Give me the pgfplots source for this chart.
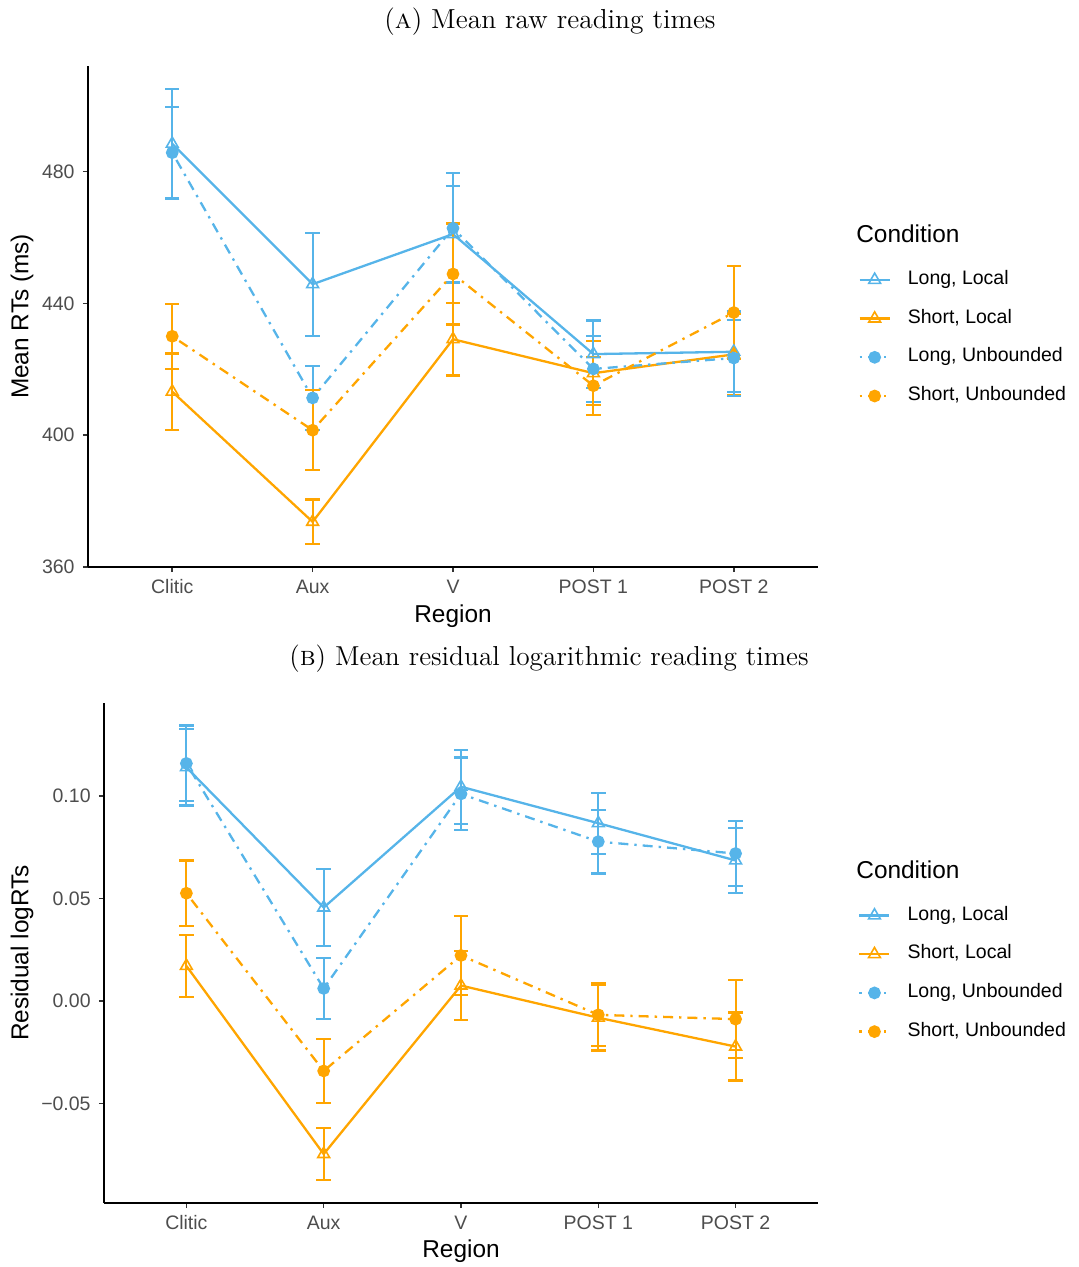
\documentclass[border=0pt]{standalone}
\usepackage{fontspec}
\setsansfont{Liberation Sans}
\usepackage{pgfplots}
\pgfplotsset{compat=1.18}
\usepackage{pgfplotstable}

\definecolor{cblue}{HTML}{56B4E9}
\definecolor{corange}{HTML}{FFA500}
\definecolor{tickgrey}{HTML}{4D4D4D}
\definecolor{tickline}{HTML}{333333}

\pgfplotstableread{
x LLy LLe SLy SLe LUy LUe SUy SUe
0 488.4 16.7 413.2 11.6 485.7 13.9 430.0 9.9
1 445.8 15.6 373.7 6.8 411.3 9.8 401.5 12.1
2 461.0 14.5 429.1 11.0 462.8 16.7 448.9 15.3
3 424.6 10.2 418.8 9.7 420.1 10.0 415.0 8.8
4 425.3 12.2 424.5 12.2 423.4 11.6 437.2 14.1
}\rawdata

\pgfplotstableread{
x LLy LLe SLy SLe LUy LUe SUy SUe
0 0.1141 0.0187 0.0171 0.0150 0.1160 0.0185 0.0526 0.0160
1 0.0456 0.0187 -0.0748 0.0128 0.0061 0.0150 -0.0342 0.0156
2 0.1046 0.0181 0.0075 0.0170 0.1011 0.0178 0.0222 0.0193
3 0.0868 0.0149 -0.0082 0.0160 0.0778 0.0156 -0.0068 0.0154
4 0.0686 0.0159 -0.0223 0.0166 0.0720 0.0159 -0.0089 0.0190
}\logdata

\tikzset{dashdot/.style={dash pattern=on 1.2pt off 3pt on 5pt off 3pt}}

\pgfplotsset{
  rtaxis/.style={
    scale only axis,
    xmin=-0.6, xmax=4.6,
    axis x line=bottom, axis y line=left,
    axis line style={-, line width=0.8pt, black},
    tick align=outside, major tick length=2.5pt,
    every tick/.style={tickline, line width=0.8pt},
    xtick={0,1,2,3,4},
    xticklabels={Clitic,Aux,V,POST 1,POST 2},
    scaled y ticks=false,
    tick label style={font=\sffamily\fontsize{9.75}{11}\selectfont, text=tickgrey},
    xticklabel style={inner sep=0pt, text height=7pt, text depth=0pt, yshift=-3.5pt},
    yticklabel style={inner sep=0pt, xshift=-4pt},
    label style={font=\sffamily\fontsize{12.2}{14}\selectfont},
    xlabel={Region},
    legend image code/.code={\draw[mark repeat=2,mark phase=2,##1] plot coordinates {(0pt,0pt) (7.5pt,0pt) (15pt,0pt)};},
    legend cell align=left,
    legend style={draw=none, fill=none, font=\sffamily\fontsize{9.75}{11}\selectfont,
      inner sep=0pt, outer sep=0pt, row sep=9.85pt, column sep=0pt,
      nodes={inner sep=0pt, text height=7pt, text depth=2.5pt},
      /tikz/every odd column/.style={column sep=8.5pt},
      anchor=north west},
    clip=false,
  },
  ebar/.style={
    /pgfplots/error bars/y dir=both,
    /pgfplots/error bars/y explicit,
    /pgfplots/error bars/error bar style={solid, line width=1.1pt},
    /pgfplots/error bars/error mark options={rotate=90, mark size=3.6pt, line width=1.1pt, solid},
  },
  LLs/.style={cblue, solid, line width=1.15pt, mark=triangle, mark size=3.4pt, mark options={solid, line width=0.8pt}, ebar},
  SLs/.style={corange, solid, line width=1.15pt, mark=triangle, mark size=3.4pt, mark options={solid, line width=0.8pt}, ebar},
  LUs/.style={cblue, dashdot, line width=1.15pt, mark=*, mark size=2.6pt, mark options={solid, fill=cblue}, ebar},
  SUs/.style={corange, dashdot, line width=1.15pt, mark=*, mark size=2.6pt, mark options={solid, fill=corange}, ebar},
}

\begin{document}
\begin{tikzpicture}
\useasboundingbox (0,0) rectangle (539pt,-633.5pt);

\node[anchor=base, font=\fontsize{13.75}{16}\selectfont] at (275pt,-14.5pt) {(\textsc{a}) Mean raw reading times};
\node[anchor=base, font=\fontsize{13.7}{16}\selectfont] at (274.5pt,-332.5pt) {(\textsc{b}) Mean residual logarithmic reading times};

\begin{axis}[rtaxis,
  at={(44pt,-283.5pt)}, anchor=south west,
  width=365pt, height=250.5pt,
  ymin=360, ymax=512.0,
  ytick={360,400,440,480},
  yticklabels={360,400,440,480},
  ylabel={Mean RTs (ms)},
  ylabel style={at={(axis description cs:-0.0904,0.5)}, anchor=center},
  xlabel style={at={(axis description cs:0.5,-0.0975)}, anchor=center},
  legend style={at={(axis description cs:1.0555,0.592)}},
]
\addplot[LLs] table[x=x, y=LLy, y error=LLe] {\rawdata};
\addlegendentry{Long, Local}
\addplot[SLs] table[x=x, y=SLy, y error=SLe] {\rawdata};
\addlegendentry{Short, Local}
\addplot[LUs] table[x=x, y=LUy, y error=LUe] {\rawdata};
\addlegendentry{Long, Unbounded}
\addplot[SUs] table[x=x, y=SUy, y error=SUe] {\rawdata};
\addlegendentry{Short, Unbounded}
\node[anchor=west, inner sep=0pt, font=\sffamily\fontsize{12.2}{14}\selectfont] at (axis description cs:1.052,0.6647) {Condition};
\end{axis}

\begin{axis}[rtaxis,
  at={(52pt,-601.5pt)}, anchor=south west,
  width=357pt, height=250pt,
  ymin=-0.0987, ymax=0.1455,
  ytick={-0.05,0,0.05,0.10},
  yticklabels={−0.05,0.00,0.05,0.10},
  ylabel={Residual logRTs},
  ylabel style={at={(axis description cs:-0.1148,0.5)}, anchor=center},
  xlabel style={at={(axis description cs:0.5,-0.096)}, anchor=center},
  legend style={at={(axis description cs:1.0565,0.594)}},
]
\addplot[LLs] table[x=x, y=LLy, y error=LLe] {\logdata};
\addlegendentry{Long, Local}
\addplot[SLs] table[x=x, y=SLy, y error=SLe] {\logdata};
\addlegendentry{Short, Local}
\addplot[LUs] table[x=x, y=LUy, y error=LUe] {\logdata};
\addlegendentry{Long, Unbounded}
\addplot[SUs] table[x=x, y=SUy, y error=SUe] {\logdata};
\addlegendentry{Short, Unbounded}
\node[anchor=west, inner sep=0pt, font=\sffamily\fontsize{12.2}{14}\selectfont] at (axis description cs:1.0532,0.666) {Condition};
\end{axis}
\end{tikzpicture}
\end{document}
